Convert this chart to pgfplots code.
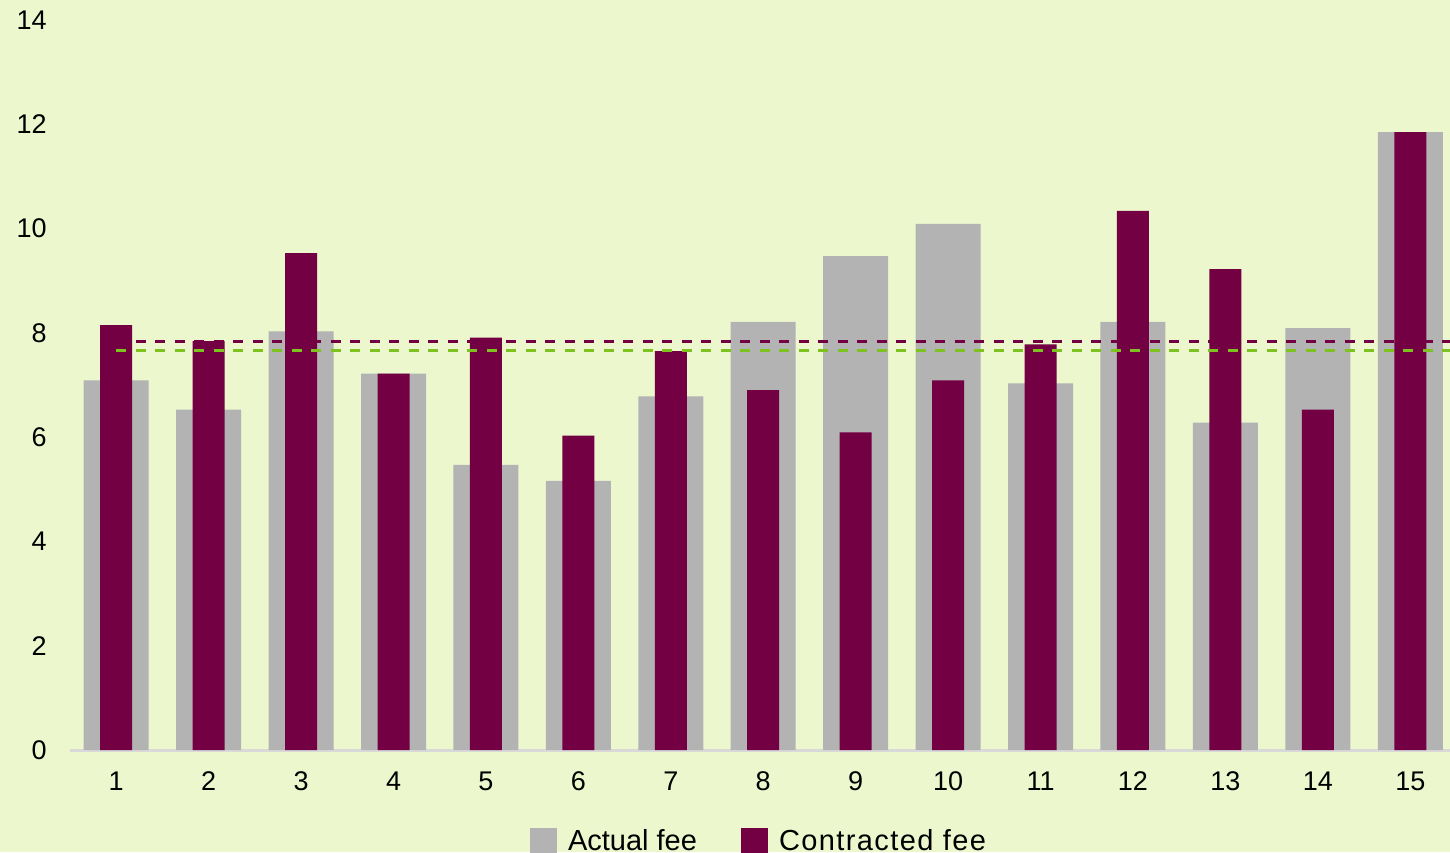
\documentclass[border=0pt]{standalone}
\usepackage{fontspec}
\setmainfont{Liberation Sans}
\usepackage{pgfplots}
\usepackage{pgfplotstable}
\pgfplotsset{compat=1.18}
\usetikzlibrary{backgrounds}

\definecolor{bgc}{HTML}{ECF7CE}
\definecolor{actualc}{HTML}{B3B3B3}
\definecolor{contrc}{HTML}{720042}
\definecolor{avgc}{HTML}{7DC21E}
\definecolor{axisc}{HTML}{D9D9D9}

% fee per case: x = case number
\pgfplotstableread{
x actual contracted
1  7.09  8.15
2  6.53  7.84
3  8.03  9.53
4  7.22  7.22
5  5.47  7.91
6  5.16  6.03
7  6.78  7.65
8  8.21  6.90
9  9.47  6.09
10 10.09 7.09
11 7.03  7.78
12 8.21  10.34
13 6.28  9.22
14 8.09  6.53
15 11.85 11.85
}\feetable

\begin{document}
\begin{tikzpicture}
\begin{axis}[
  scale only axis,
  width=690pt, height=365pt,
  xmin=0.5, xmax=15.43,
  ymin=0, ymax=14,
  ytick={0,2,...,14},
  xtick={1,...,15},
  axis x line*=bottom,
  axis y line*=left,
  y axis line style={draw=none},
  x axis line style={axisc, line width=1.5pt},
  major tick length=0pt,
  tick style={draw=none},
  font=\fontsize{13.5}{16}\selectfont,
  /pgf/number format/assume math mode=true,
  xticklabel style={anchor=center, yshift=-15.75pt, inner sep=0pt},
  yticklabel style={anchor=east, xshift=-11.5pt, inner sep=0pt},
  legend style={at={(0.5,-0.1027)}, anchor=north, draw=none, fill=none,
    legend columns=2, inner sep=0pt,
    font=\fontsize{14.5}{17}\selectfont,
    /tikz/every odd column/.append style={column sep=3.5pt},
    /tikz/every even column/.append style={column sep=20pt}},
  legend cell align=left,
]
\addplot[ybar, bar width=32.5pt, bar shift=0pt, fill=actualc, draw=none,
  legend image code/.code={\fill[actualc] (0pt,-6.75pt) rectangle (13.5pt,6.75pt);}]
  table[x=x, y=actual] {\feetable};
\addlegendentry{Actual fee}
\addplot[ybar, bar width=16pt, bar shift=0pt, fill=contrc, draw=none,
  legend image code/.code={\fill[contrc] (0pt,-6.75pt) rectangle (13.5pt,6.75pt);}]
  table[x=x, y=contracted] {\feetable};
\addlegendentry{\addfontfeature{LetterSpace=4.8}Contracted fee}
% averages
\addplot[forget plot, contrc, line width=1.5pt, dash pattern=on 5pt off 4.75pt]
  coordinates {(1,7.84) (15.43,7.84)};
\addplot[forget plot, avgc, line width=1.5pt, dash pattern=on 5pt off 4.75pt]
  coordinates {(1,7.67) (15.43,7.67)};
\end{axis}
\begin{scope}[on background layer]
\fill[bgc] ([xshift=-35pt,yshift=-51pt]current axis.south west) rectangle ([yshift=10pt]current axis.north east);
\end{scope}
\pgfresetboundingbox
\path[use as bounding box] ([xshift=-35pt,yshift=-51pt]current axis.south west) rectangle ([yshift=10pt]current axis.north east);
\end{tikzpicture}
\end{document}
